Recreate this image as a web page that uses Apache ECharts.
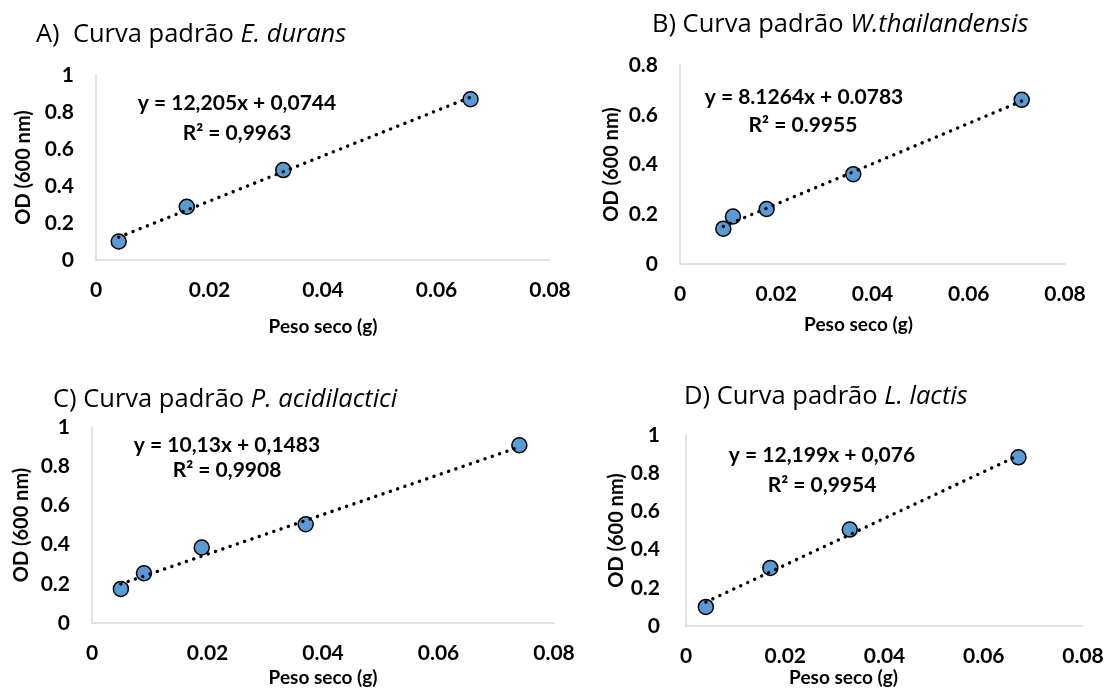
<!DOCTYPE html>
<html>
<head>
<meta charset="utf-8">
<script src="https://cdn.jsdelivr.net/npm/echarts@6/dist/echarts.min.js"></script>
<style>
html, body { margin: 0; padding: 0; background: #fff; }
#main { width: 1107px; height: 688px; }
</style>
</head>
<body>
<div id="main"></div>
<script>
// dados (peso seco em g, OD 600 nm)
const durX = [0.004, 0.016, 0.033, 0.066];
const durY = [0.100, 0.288, 0.486, 0.869];
const thaiX = [0.009, 0.011, 0.018, 0.036, 0.071];
const thaiY = [0.142, 0.191, 0.221, 0.361, 0.660];
const acidX = [0.005, 0.009, 0.019, 0.037, 0.074];
const acidY = [0.174, 0.254, 0.385, 0.504, 0.907];
const lactX = [0.004, 0.017, 0.033, 0.067];
const lactY = [0.100, 0.304, 0.505, 0.883];

// linhas de tendência (pontos extremos)
const durTrend = [[0.004, 0.123], [0.066, 0.880]];
const thaiTrend = [[0.009, 0.151], [0.071, 0.655]];
const acidTrend = [[0.005, 0.199], [0.074, 0.898]];
const lactTrend = [[0.004, 0.125], [0.067, 0.893]];

// eixos
const xMax = 0.08, xStep = 0.02;
const yMaxs = [1, 0.8, 1, 1];
const yStep = 0.2;

// textos
const titleLabels = ['A)  Curva padrão ', 'B) Curva padrão ', 'C) Curva padrão ', 'D) Curva padrão '];
const species = ['E. durans', 'W.thailandensis', 'P. acidilactici', 'L. lactis'];
const equations = ['y = 12,205x + 0,0744', 'y = 8.1264x + 0.0783', 'y = 10,13x + 0,1483', 'y = 12,199x + 0,076'];
const rSquared = ['R² = 0,9963', 'R² = 0.9955', 'R² = 0,9908', 'R² = 0,9954'];
const xName = 'Peso seco (g)';
const yName = 'OD (600 nm)';

const FONT = 'Lato, "Open Sans", sans-serif';
const TITLE_FONT = '"Open Sans", Lato, sans-serif';

// posição de cada painel
const layout = [
    { grid: { left: 96, top: 75, width: 454, height: 185 }, title: [36, 35], eq: [237, 103], r2: [237, 133], xGap: 57, xShift: 0, yGap: 62 },
    { grid: { left: 680, top: 65, width: 385, height: 199 }, title: [652, 25], eq: [804, 97], r2: [803, 125], xGap: 51, xShift: 28, yGap: 58 },
    { grid: { left: 92, top: 427, width: 462, height: 196 }, title: [53, 400], eq: [227, 445], r2: [227, 470], xGap: 45, xShift: 0, yGap: 60 },
    { grid: { left: 686, top: 435, width: 397, height: 191 }, title: [684, 397], eq: [822, 455], r2: [822, 485], xGap: 40, xShift: 82, yGap: 57 }
];

const scatterData = [
    durX.map((x, i) => [x, durY[i]]),
    thaiX.map((x, i) => [x, thaiY[i]]),
    acidX.map((x, i) => [x, acidY[i]]),
    lactX.map((x, i) => [x, lactY[i]])
];
const trendData = [durTrend, thaiTrend, acidTrend, lactTrend];

let grids = [], xAxes = [], yAxes = [], series = [], graphics = [];

layout.forEach((p, k) => {
    grids.push(p.grid);
    xAxes.push({
        type: 'value',
        gridIndex: k,
        min: 0,
        max: xMax,
        interval: xStep,
        name: xName,
        nameLocation: 'middle',
        nameGap: p.xGap,
        nameTextStyle: {
            color: '#000', fontFamily: FONT, fontWeight: 'bold', fontSize: 19,
            padding: [0, p.xShift, 0, 0]
        },
        axisLine: { show: true, lineStyle: { color: '#d9d9d9', width: 1.5 } },
        axisTick: { show: false },
        splitLine: { show: false },
        axisLabel: { margin: 20, color: '#000', fontFamily: FONT, fontWeight: 'bold', fontSize: 21 }
    });
    yAxes.push({
        type: 'value',
        gridIndex: k,
        min: 0,
        max: yMaxs[k],
        interval: yStep,
        name: yName,
        nameLocation: 'middle',
        nameRotate: 90,
        nameGap: p.yGap,
        nameTextStyle: { color: '#000', fontFamily: FONT, fontWeight: 'bold', fontSize: 20 },
        axisLine: { show: true, lineStyle: { color: '#d9d9d9', width: 1.5 } },
        axisTick: { show: false },
        splitLine: { show: false },
        axisLabel: { margin: k == 3 ? 26 : 22, color: '#000', fontFamily: FONT, fontWeight: 'bold', fontSize: 21 }
    });
    series.push({
        type: 'scatter',
        xAxisIndex: k,
        yAxisIndex: k,
        data: scatterData[k],
        symbolSize: 15,
        z: 2,
        itemStyle: { color: '#5b9bd5', borderColor: '#000', borderWidth: 1.5, opacity: 1 }
    });
    series.push({
        type: 'line',
        xAxisIndex: k,
        yAxisIndex: k,
        data: trendData[k],
        showSymbol: false,
        symbol: 'none',
        z: 3,
        lineStyle: { color: '#000', width: 3.4, type: [0.1, 7.6], cap: 'round' }
    });
    // título com nome da espécie em itálico
    graphics.push({
        type: 'text',
        x: p.title[0],
        y: p.title[1],
        style: {
            text: '{n|' + titleLabels[k] + '}{i|' + species[k] + '}',
            verticalAlign: 'middle',
            rich: {
                n: { fontFamily: TITLE_FONT, fontSize: 25.5, fill: '#000' },
                i: { fontFamily: TITLE_FONT, fontSize: 25.5, fontStyle: 'italic', fill: '#000' }
            }
        }
    });
    graphics.push({
        type: 'text', x: p.eq[0], y: p.eq[1],
        style: { text: equations[k], align: 'center', verticalAlign: 'middle', fontFamily: FONT, fontWeight: 'bold', fontSize: 21, fill: '#000' }
    });
    graphics.push({
        type: 'text', x: p.r2[0], y: p.r2[1],
        style: { text: rSquared[k], align: 'center', verticalAlign: 'middle', fontFamily: FONT, fontWeight: 'bold', fontSize: 21, fill: '#000' }
    });
});

let myChart = echarts.init(document.getElementById('main'));
myChart.setOption({
    animation: false,
    backgroundColor: '#fff',
    grid: grids,
    xAxis: xAxes,
    yAxis: yAxes,
    series: series,
    graphic: graphics
});
</script>
</body>
</html>
